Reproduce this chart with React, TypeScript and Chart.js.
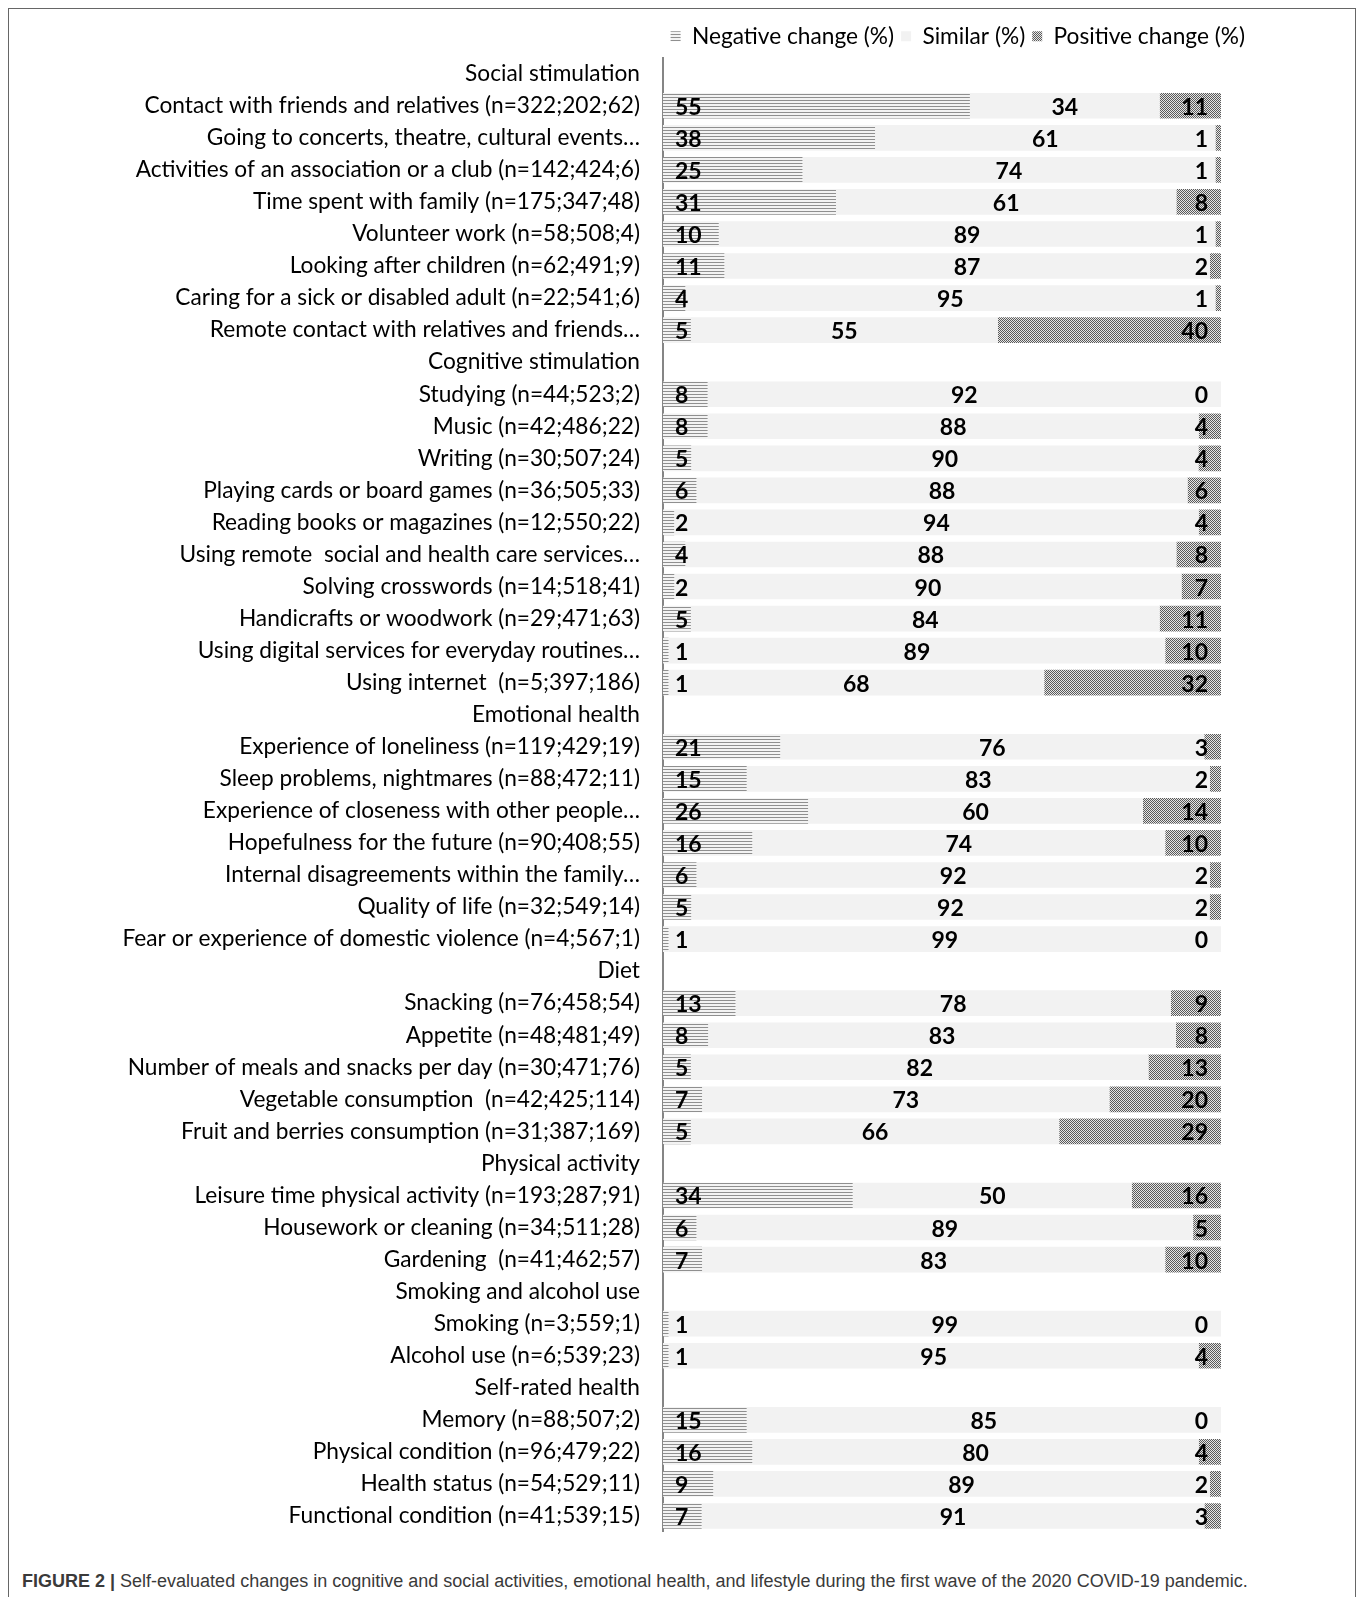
import React, { useEffect, useRef } from "react";
import { Chart, registerables } from "chart.js";

Chart.register(...registerables);

const categories: string[] = [
  "Social stimulation",
  "Contact with friends and relatives (n=322;202;62)",
  "Going to concerts, theatre, cultural events…",
  "Activities of an association or a club (n=142;424;6)",
  "Time spent with family (n=175;347;48)",
  "Volunteer work (n=58;508;4)",
  "Looking after children (n=62;491;9)",
  "Caring for a sick or disabled adult (n=22;541;6)",
  "Remote contact with relatives and friends…",
  "Cognitive stimulation",
  "Studying (n=44;523;2)",
  "Music (n=42;486;22)",
  "Writing (n=30;507;24)",
  "Playing cards or board games (n=36;505;33)",
  "Reading books or magazines (n=12;550;22)",
  "Using remote  social and health care services…",
  "Solving crosswords (n=14;518;41)",
  "Handicrafts or woodwork (n=29;471;63)",
  "Using digital services for everyday routines…",
  "Using internet  (n=5;397;186)",
  "Emotional health",
  "Experience of loneliness (n=119;429;19)",
  "Sleep problems, nightmares (n=88;472;11)",
  "Experience of closeness with other people…",
  "Hopefulness for the future (n=90;408;55)",
  "Internal disagreements within the family…",
  "Quality of life (n=32;549;14)",
  "Fear or experience of domestic violence (n=4;567;1)",
  "Diet",
  "Snacking (n=76;458;54)",
  "Appetite (n=48;481;49)",
  "Number of meals and snacks per day (n=30;471;76)",
  "Vegetable consumption  (n=42;425;114)",
  "Fruit and berries consumption (n=31;387;169)",
  "Physical activity",
  "Leisure time physical activity (n=193;287;91)",
  "Housework or cleaning (n=34;511;28)",
  "Gardening  (n=41;462;57)",
  "Smoking and alcohol use",
  "Smoking (n=3;559;1)",
  "Alcohol use (n=6;539;23)",
  "Self-rated health",
  "Memory (n=88;507;2)",
  "Physical condition (n=96;479;22)",
  "Health status (n=54;529;11)",
  "Functional condition (n=41;539;15)",
];

const negativeChange: (number | null)[] = [
  null, 55, 38, 25, 31, 10, 11, 4, 5,
  null, 8, 8, 5, 6, 2, 4, 2, 5, 1, 1,
  null, 21, 15, 26, 16, 6, 5, 1,
  null, 13, 8, 5, 7, 5,
  null, 34, 6, 7,
  null, 1, 1,
  null, 15, 16, 9, 7,
];

const similar: (number | null)[] = [
  null, 34, 61, 74, 61, 89, 87, 95, 55,
  null, 92, 88, 90, 88, 94, 88, 90, 84, 89, 68,
  null, 76, 83, 60, 74, 92, 92, 99,
  null, 78, 83, 82, 73, 66,
  null, 50, 89, 83,
  null, 99, 95,
  null, 85, 80, 89, 91,
];

const positiveChange: (number | null)[] = [
  null, 11, 1, 1, 8, 1, 2, 1, 40,
  null, 0, 4, 4, 6, 4, 8, 7, 11, 10, 32,
  null, 3, 2, 14, 10, 2, 2, 0,
  null, 9, 8, 13, 20, 29,
  null, 16, 5, 10,
  null, 0, 4,
  null, 0, 4, 2, 3,
];

const seriesNames = ["Negative change (%)", "Similar (%)", "Positive change (%)"];

function makePattern(kind: "lines" | "checker"): CanvasPattern | string {
  const c = document.createElement("canvas");
  const ctx = c.getContext("2d");
  if (!ctx) return "#999";
  if (kind === "lines") {
    c.width = 4;
    c.height = 3;
    ctx.fillStyle = "#f3f3f3";
    ctx.fillRect(0, 0, 4, 3);
    ctx.fillStyle = "#8f8f8f";
    ctx.fillRect(0, 1, 4, 1);
  } else {
    c.width = 2;
    c.height = 2;
    ctx.fillStyle = "#e6e6e6";
    ctx.fillRect(0, 0, 2, 2);
    ctx.fillStyle = "#5a5a5a";
    ctx.fillRect(0, 0, 1, 1);
    ctx.fillRect(1, 1, 1, 1);
  }
  return ctx.createPattern(c, "repeat") || "#999";
}

const rawSeries = [negativeChange, similar, positiveChange];

const valueLabels = {
  id: "valueLabels",
  afterDatasetsDraw(chart: any) {
    const ctx = chart.ctx;
    const area = chart.chartArea;
    ctx.save();
    ctx.font = "bold 23px Lato";
    ctx.fillStyle = "#000000";
    ctx.textBaseline = "alphabetic";
    rawSeries.forEach((raw, di) => {
      const meta = chart.getDatasetMeta(di);
      meta.data.forEach((bar: any, i: number) => {
        const v = raw[i];
        if (v == null) return;
        const p = bar.getProps(["x", "y", "base"], true);
        const ty = p.y + 9;
        if (di === 0) {
          ctx.textAlign = "left";
          ctx.fillText(String(v), area.left + 12, ty);
        } else if (di === 1) {
          ctx.textAlign = "center";
          ctx.fillText(String(v), (p.x + p.base) / 2, ty);
        } else {
          ctx.textAlign = "right";
          ctx.fillText(String(v), area.right - 13, ty);
        }
      });
    });
    ctx.restore();
  },
};

function ChartView() {
  const ref = useRef<HTMLCanvasElement | null>(null);
  useEffect(() => {
    if (!ref.current) return;
    const totals = categories.map((_, i) => {
      const a = negativeChange[i], b = similar[i], c = positiveChange[i];
      if (a == null || b == null || c == null) return null;
      return a + b + c;
    });
    const norm = (arr: (number | null)[]) =>
      arr.map((v, i) => (v == null || totals[i] == null ? null : (v / (totals[i] as number)) * 100));
    const colors = [makePattern("lines"), "#f2f2f2", makePattern("checker")];
    const chart = new Chart(ref.current, {
      type: "bar",
      data: {
        labels: categories,
        datasets: rawSeries.map((arr, i) => ({
          label: seriesNames[i],
          data: norm(arr) as any,
          backgroundColor: colors[i] as any,
          borderWidth: 0,
          barPercentage: 0.8,
          categoryPercentage: 1,
        })),
      },
      options: {
        indexAxis: "y",
        animation: false,
        responsive: false,
        events: [],
        layout: { padding: 0 },
        plugins: {
          tooltip: { enabled: false },
          legend: {
            display: true,
            position: "top",
            align: "end",
            labels: {
              boxWidth: 10,
              boxHeight: 10,
              padding: 7,
              color: "#000000",
              font: { family: "Lato", size: 22.7 },
            },
          },
        },
        scales: {
          x: { stacked: true, min: 0, max: 100, display: false },
          y: {
            stacked: true,
            grid: { display: false, drawTicks: false },
            border: { display: true, color: "#858585", width: 2 },
            ticks: {
              color: "#000000",
              font: { family: "Lato", size: 22.7 },
              padding: 23,
              autoSkip: false,
            },
            afterFit(scale: any) {
              scale.width = 653;
              scale.paddingTop = 0;
              scale.paddingBottom = 0;
            },
          },
          yRight: {
            type: "category",
            position: "right",
            display: true,
            grid: { display: false, drawTicks: false },
            border: { display: false },
            ticks: { display: false },
            afterFit(scale: any) {
              scale.width = 31;
              scale.paddingTop = 0;
              scale.paddingBottom = 0;
            },
          },
        } as any,
      },
      plugins: [valueLabels],
    });
    return () => chart.destroy();
  }, []);
  return (
    <canvas
      ref={ref}
      width={1242}
      height={1514}
      style={{ position: "absolute", left: 10, top: 18, width: 1242, height: 1514 }}
    />
  );
}

export default function App() {
  return (
    <div
      style={{
        position: "fixed",
        left: 0,
        top: 0,
        width: 1357,
        height: 1597,
        background: "#ffffff",
        overflow: "hidden",
      }}
    >
      <div
        style={{
          position: "absolute",
          left: 8,
          top: 8,
          width: 1348,
          height: 1620,
          boxSizing: "border-box",
          border: "1px solid #666666",
          borderBottom: "none",
        }}
      />
      <ChartView />
      <div
        style={{
          position: "absolute",
          left: 22,
          top: 1571,
          whiteSpace: "nowrap",
          fontFamily: '"Liberation Sans Narrow", "Arial Narrow", sans-serif',
          fontSize: 18,
          color: "#3a3a3a",
        }}
      >
        <b>FIGURE 2 |</b> Self-evaluated changes in cognitive and social activities, emotional health, and lifestyle during the first wave of the 2020 COVID-19 pandemic.
      </div>
    </div>
  );
}
